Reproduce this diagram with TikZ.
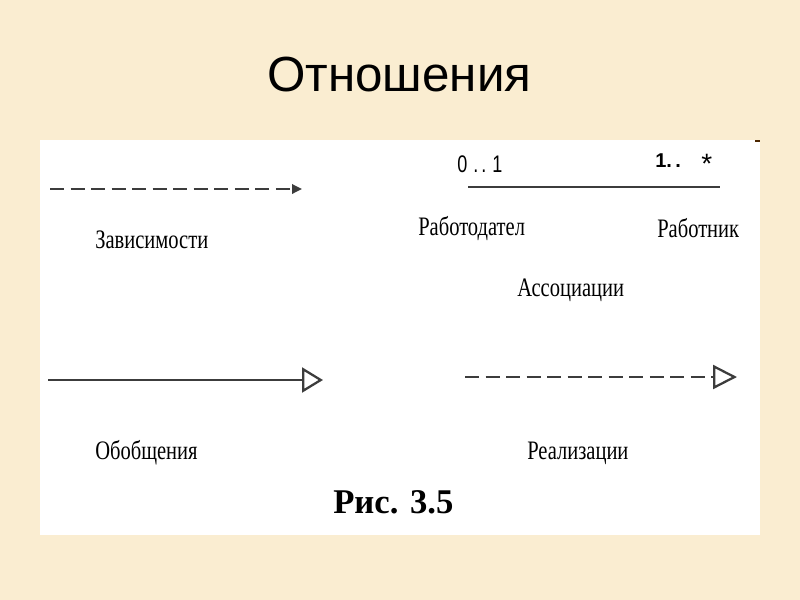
\documentclass[tikz,border=0pt]{standalone}
\usepackage{fontspec}
\usepackage{graphicx}
\setmainfont{Liberation Serif}
\setsansfont{Liberation Sans}
\usetikzlibrary{arrows.meta}
\definecolor{parch}{RGB}{250,237,209}
\definecolor{ink}{RGB}{60,60,60}
\newcommand{\cnd}[1]{\scalebox{0.77}[1]{#1}}
\tikzset{
  lbl/.style={anchor=base west, inner sep=0pt, font=\fontsize{20}{24}\selectfont, text=black},
  conn/.style={draw=ink, line width=1.7pt},
  dashconn/.style={conn, dash pattern=on 10.6pt off 4.8pt},
}
\begin{document}
\begin{tikzpicture}[x=0.75pt,y=-0.75pt]
\fill[parch] (0,0) rectangle (800,600);
\useasboundingbox (0,0) rectangle (800,600);
\fill[white] (40,140) rectangle (760,535);
\fill[black!70!orange] (755,140) rectangle (760,142);
% title
\node[anchor=base west, inner sep=0pt, font=\sffamily\fontsize{37}{42}\selectfont] (title) at (267,91) {Отношения};
% dependency
\coordinate (d1) at (50,189);
\coordinate (d2) at (302,189);
\draw[dashconn, -{Triangle[length=7.5pt,width=7pt]}] (d1) -- (d2);
\node[lbl] (zav) at (95,248) {\cnd{Зависимости}};
% association
\node[anchor=base west, inner sep=0pt, font=\sffamily\fontsize{18}{20}\selectfont] (m1) at (457,172) {\scalebox{0.75}[1]{0\,\,.\,.\,\,1}};
\node[anchor=base west, inner sep=0pt, font=\sffamily\bfseries\fontsize{15}{17}\selectfont] (m2) at (655,167) {1.\,.};
\node[anchor=base west, inner sep=0pt, font=\sffamily\fontsize{21}{21}\selectfont] (m3) at (701,173) {*};
\coordinate (a1) at (468,187);
\coordinate (a2) at (720,187);
\draw[conn] (a1) -- (a2);
\node[lbl] (emp) at (418,235) {\cnd{Работодател}};
\node[lbl] (wrk) at (657,237) {\cnd{Работник}};
\node[lbl] (assoc) at (517,296) {\cnd{Ассоциации}};
% generalization
\coordinate (g1) at (48,380);
\coordinate (g2) at (323,380);
\draw[conn, -{Triangle[length=15.75pt,width=18.75pt,fill=white]}] (g1) -- (g2);
\node[lbl] (gen) at (95,459) {\cnd{Обобщения}};
% realization
\coordinate (r1) at (465,377);
\coordinate (r2) at (737,377);
\draw[dashconn, -{Triangle[length=18pt,width=18pt,fill=white]}] (r1) -- (r2);
\node[lbl] (real) at (527,459) {\cnd{Реализации}};
% caption
\node[anchor=base west, inner sep=0pt, font=\bfseries\fontsize{26}{30}\selectfont] (cap) at (333,513) {Рис. 3.5};
\end{tikzpicture}
\end{document}
